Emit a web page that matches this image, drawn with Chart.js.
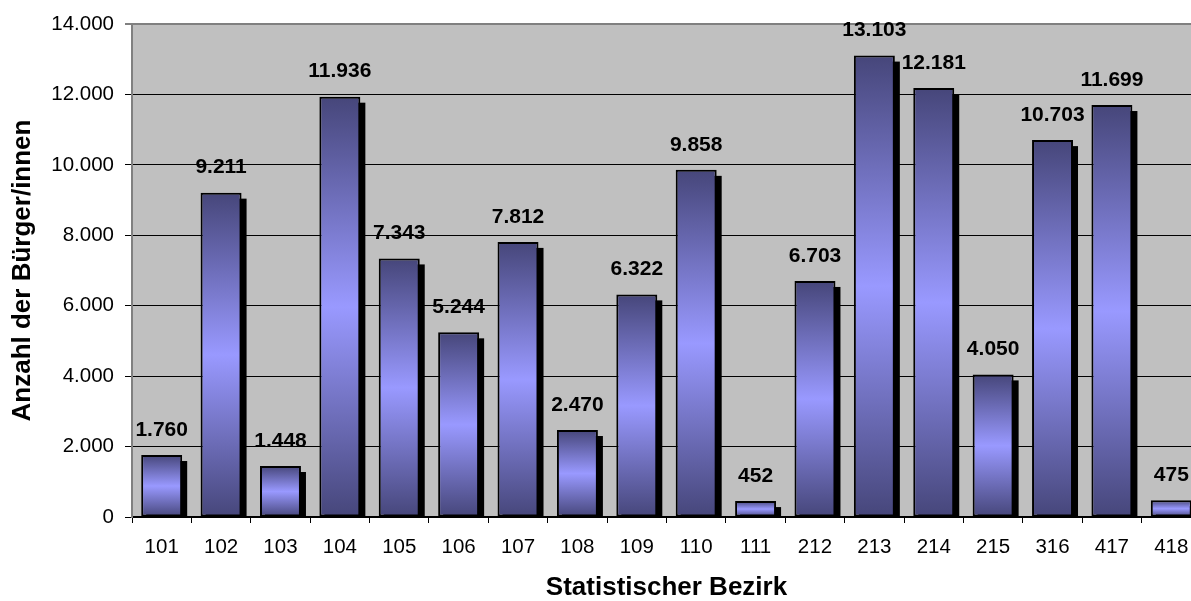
<!DOCTYPE html>
<html>
<head>
<meta charset="utf-8">
<script src="https://cdn.jsdelivr.net/npm/chart.js@4/dist/chart.umd.min.js"></script>
<style>
  html, body { margin: 0; padding: 0; background: #ffffff; overflow: hidden; width: 1191px; height: 601px; }
  canvas { display: block; }
</style>
</head>
<body>
<canvas id="c" width="1201" height="601"></canvas>
<script>
const categories = ['101','102','103','104','105','106','107','108','109','110','111','212','213','214','215','316','417','418'];
const residents = [1760, 9211, 1448, 11936, 7343, 5244, 7812, 2470, 6322, 9858, 452, 6703, 13103, 12181, 4050, 10703, 11699, 475];
const yTickValues = [0, 2000, 4000, 6000, 8000, 10000, 12000, 14000];
const xAxisTitle = 'Statistischer Bezirk';
const yAxisTitle = 'Anzahl der Bürger/innen';

const FONT = '"Liberation Sans", Arial, Helvetica, sans-serif';

function fmt(v) {
  return String(Math.round(v)).replace(/\B(?=(\d{3})+(?!\d))/g, '.');
}

const plotBackground = {
  id: 'plotBackground',
  beforeDraw(chart) {
    const { ctx, chartArea: a } = chart;
    ctx.save();
    ctx.fillStyle = '#C0C0C0';
    ctx.fillRect(a.left, a.top, a.right - a.left, a.bottom - a.top);
    ctx.restore();
  }
};

const barShadow = {
  id: 'barShadow',
  beforeDatasetsDraw(chart) {
    const { ctx, chartArea: a } = chart;
    ctx.save();
    ctx.beginPath();
    ctx.rect(a.left, a.top, a.right - a.left, a.bottom - a.top);
    ctx.clip();
    ctx.fillStyle = '#000000';
    chart.getDatasetMeta(0).data.forEach(bar => {
      const { x, y, base, width } = bar.getProps(['x', 'y', 'base', 'width'], true);
      ctx.fillRect(x - width / 2 + 5, y + 6, width, base - y);
    });
    ctx.restore();
  }
};

const valueLabels = {
  id: 'valueLabels',
  afterDatasetsDraw(chart) {
    const { ctx } = chart;
    ctx.save();
    ctx.font = 'bold 21px ' + FONT;
    ctx.fillStyle = '#000000';
    ctx.textAlign = 'center';
    ctx.textBaseline = 'middle';
    const ds = chart.data.datasets[0];
    chart.getDatasetMeta(0).data.forEach((bar, i) => {
      const { x, y } = bar.getProps(['x', 'y'], true);
      ctx.fillText(fmt(ds.data[i]), x, y - 25);
    });
    ctx.restore();
  }
};

new Chart(document.getElementById('c'), {
  type: 'bar',
  data: {
    labels: categories,
    datasets: [{
      data: residents,
      borderColor: '#000000',
      borderWidth: 2,
      borderSkipped: false,
      categoryPercentage: 1,
      barPercentage: 0.69,
      clip: 0,
      backgroundColor: (c) => {
        const chart = c.chart;
        if (!chart.chartArea || c.type !== 'data') return '#9999FF';
        const ys = chart.scales.y;
        const top = ys.getPixelForValue(c.raw);
        const bot = ys.getPixelForValue(0);
        if (!isFinite(top) || !isFinite(bot) || bot - top < 1) return '#9999FF';
        const g = chart.ctx.createLinearGradient(0, top, 0, bot);
        g.addColorStop(0, '#46467A');
        g.addColorStop(0.5, '#9999FF');
        g.addColorStop(1, '#46467A');
        return g;
      }
    }]
  },
  options: {
    responsive: false,
    animation: false,
    devicePixelRatio: 1,
    layout: { padding: { top: 24, right: 0, bottom: 0, left: 0 } },
    plugins: {
      legend: { display: false },
      tooltip: { enabled: false }
    },
    scales: {
      x: {
        offset: true,
        grid: {
          offset: true,
          display: true,
          drawOnChartArea: false,
          drawTicks: true,
          tickLength: 6,
          color: '#000000',
          lineWidth: 1
        },
        border: { display: true, color: '#000000', width: 1.5 },
        ticks: {
          color: '#000000',
          font: { family: FONT, size: 20.5 },
          padding: 12,
          maxRotation: 0,
          autoSkip: false
        },
        title: {
          display: true,
          text: xAxisTitle,
          color: '#000000',
          font: { family: FONT, size: 26, weight: 'bold', lineHeight: 1 },
          padding: { top: 0, bottom: 0 }
        },
        afterFit(scale) { scale.height = 84; }
      },
      y: {
        min: 0,
        max: 14000,
        afterBuildTicks(scale) { scale.ticks = yTickValues.map(v => ({ value: v })); },
        grid: {
          color: (c) => (c.tick && c.tick.value === 14000) ? '#808080' : '#000000',
          lineWidth: (c) => (c.tick && c.tick.value === 14000) ? 2 : 1,
          drawTicks: true,
          tickLength: 7
        },
        border: { display: true, color: '#808080', width: 2 },
        ticks: {
          color: '#000000',
          font: { family: FONT, size: 20.5 },
          padding: 11,
          callback: (v) => fmt(v)
        },
        title: {
          display: true,
          text: yAxisTitle,
          color: '#000000',
          font: { family: FONT, size: 26, weight: 'bold', lineHeight: 1.2 },
          padding: { top: 7, bottom: 0 }
        },
        afterFit(scale) { scale.width = 132; }
      }
    }
  },
  plugins: [plotBackground, barShadow, valueLabels]
});
</script>
</body>
</html>
